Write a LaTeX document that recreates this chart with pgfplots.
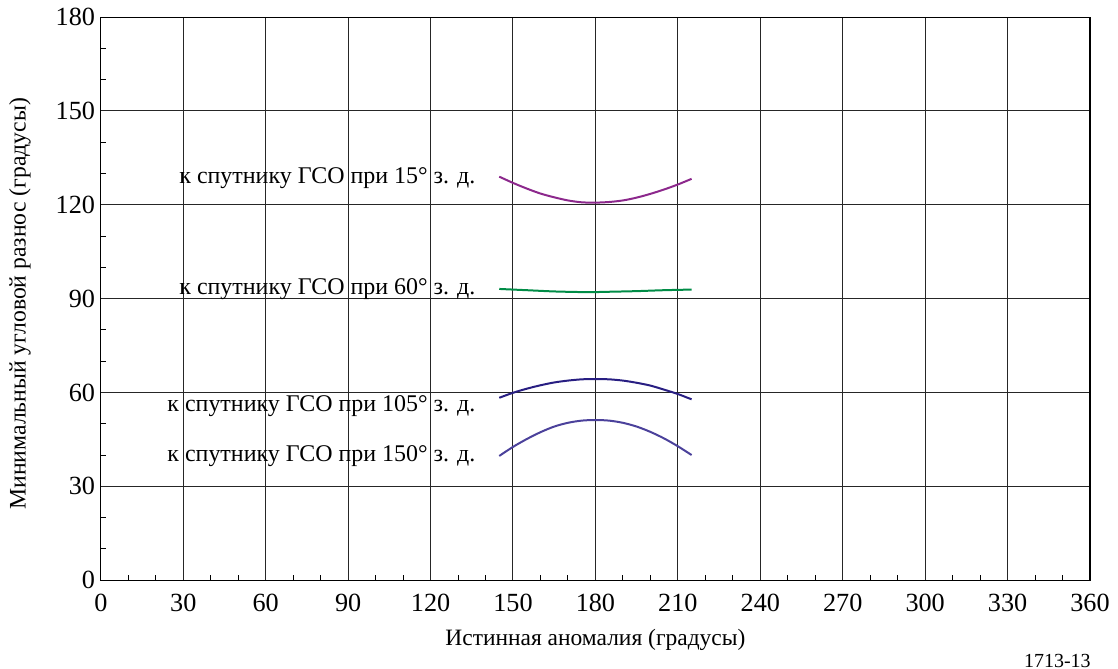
\documentclass[border=0pt]{standalone}
\usepackage{fontspec}
\setmainfont{Liberation Serif}
\usepackage{pgfplots}
\pgfplotsset{compat=1.18}

\definecolor{c15}{RGB}{140,40,140}
\definecolor{c60}{RGB}{0,140,70}
\definecolor{c105}{RGB}{40,30,130}
\definecolor{c150}{RGB}{75,65,155}

\begin{document}
\fontsize{10}{12}\selectfont
\begin{tikzpicture}
\begin{axis}[
    scale only axis,
    width=396.4pt, height=225.6pt,
    xmin=0, xmax=360, ymin=0, ymax=180,
    xtick={0,30,...,360}, ytick={0,30,...,180},
    minor x tick num=2, minor y tick num=2,
    tick pos=left,
    tick align=inside,
    major tick length=0pt, minor tick length=2pt,
    tick style={black, line width=0.4pt},
    xmajorgrids, ymajorgrids,
    major grid style={black!85, line width=0.4pt},
    axis line style={black, line width=0.5pt},
    /pgf/number format/assume math mode=true,
    ticklabel style={font=\fontsize{10.5}{12}\selectfont},
    xticklabel style={yshift=-2pt},
    yticklabel style={xshift=1.2pt},
    xlabel={Истинная аномалия (градусы)},
    ylabel={Минимальный угловой разнос (градусы)},
    xlabel style={at={(axis description cs:0.5,-0.106)}, anchor=center, font=\fontsize{9.4}{11}\selectfont},
    ylabel style={at={(axis description cs:-0.0817,0.491)}, anchor=center, font=\fontsize{9.5}{11}\selectfont},
    clip=false,
]
% к спутнику ГСО при 15° з. д.
\addplot[c15, line width=0.8pt, smooth] coordinates {
    (145,129.0)(150,127.0)(155,125.2)(160,123.6)(165,122.4)(170,121.4)
    (175,120.8)(180,120.7)(185,120.9)(190,121.4)(195,122.3)(200,123.5)
    (205,124.9)(210,126.5)(215,128.3)};
% к спутнику ГСО при 60° з. д.
\addplot[c60, line width=0.8pt, smooth] coordinates {
    (145,93.1)(155,92.7)(165,92.3)(175,92.1)(180,92.1)(185,92.2)
    (195,92.4)(205,92.7)(215,92.9)};
% к спутнику ГСО при 105° з. д.
\addplot[c105, line width=0.8pt, smooth] coordinates {
    (145,58.3)(150,59.9)(155,61.2)(160,62.3)(165,63.2)(170,63.8)
    (175,64.2)(180,64.3)(185,64.2)(190,63.8)(195,63.1)(200,62.2)
    (205,60.9)(210,59.5)(215,57.8)};
% к спутнику ГСО при 150° з. д.
\addplot[c150, line width=0.8pt, smooth] coordinates {
    (145,39.7)(150,42.6)(155,45.1)(160,47.3)(165,49.1)(170,50.3)
    (175,51.0)(180,51.2)(185,51.0)(190,50.3)(195,49.1)(200,47.4)
    (205,45.3)(210,42.8)(215,40.0)};

\begin{scope}[every node/.style={anchor=east, inner sep=0pt, font=\fontsize{9.6}{11}\selectfont}]
\node at (axis cs:136.5,128.4) {к спутнику ГСО при 15° з. д.};
\node at (axis cs:136.5,93.2) {к спутнику ГСО при 60° з. д.};
\node at (axis cs:136.5,55.5) {к спутнику ГСО при 105° з. д.};
\node at (axis cs:136.5,39.6) {к спутнику ГСО при 150° з. д.};
\end{scope}
\node[anchor=center, inner sep=0pt, font=\fontsize{8}{10}\selectfont] at (axis description cs:0.967,-0.1436) {1713-13};
\end{axis}
\useasboundingbox (-40.4pt,-35.6pt) rectangle (406.8pt,232.4pt);
\end{tikzpicture}
\end{document}
